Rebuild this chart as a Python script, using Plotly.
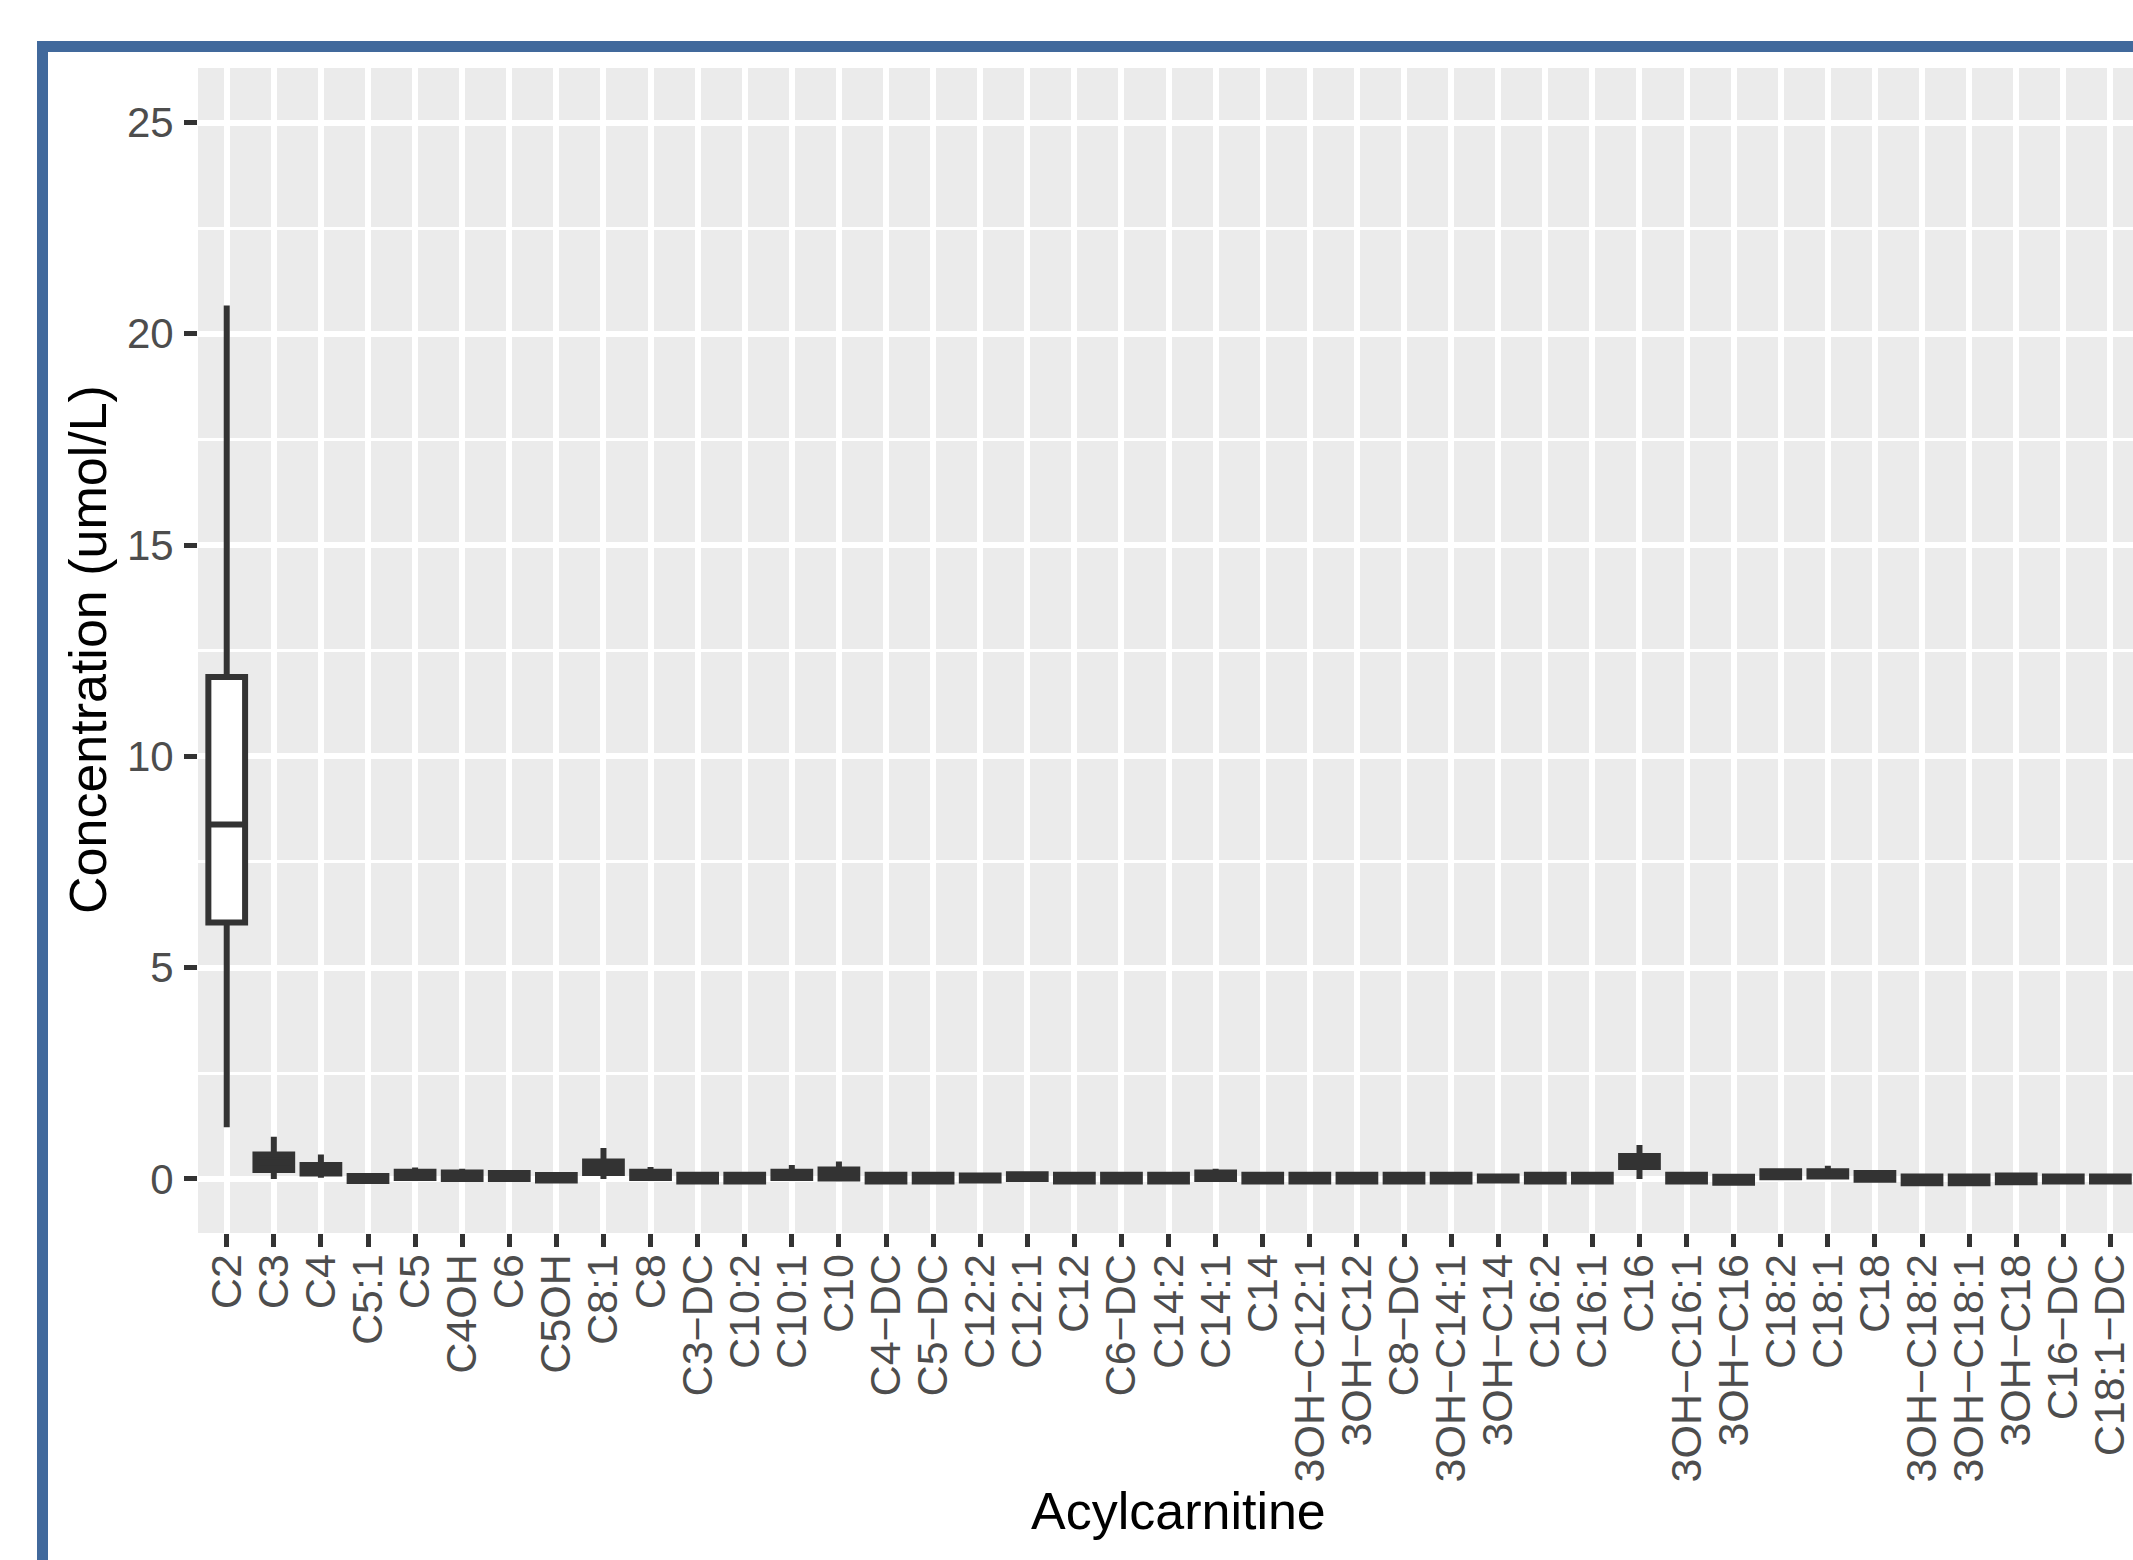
import plotly.graph_objects as go

# ---------------- data ----------------
categories = ["C2", "C3", "C4", "C5:1", "C5", "C4OH", "C6", "C5OH", "C8:1", "C8",
              "C3−DC", "C10:2", "C10:1", "C10", "C4−DC", "C5−DC", "C12:2", "C12:1", "C12", "C6−DC",
              "C14:2", "C14:1", "C14", "3OH−C12:1", "3OH−C12", "C8−DC", "3OH−C14:1", "3OH−C14", "C16:2", "C16:1",
              "C16", "3OH−C16:1", "3OH−C16", "C18:2", "C18:1", "C18", "3OH−C18:2", "3OH−C18:1", "3OH−C18", "C16−DC",
              "C18:1−DC"]

lower_whisker = [1.22, 0.00, 0.03, -0.05, 0.00, 0.00, 0.00, -0.04, 0.00, 0.00,
                 -0.06, -0.06, 0.00, 0.00, -0.06, -0.06, -0.04, 0.00, -0.06, -0.06,
                 -0.06, 0.00, -0.06, -0.06, -0.06, -0.06, -0.06, -0.04, -0.06, -0.06,
                 0.00, -0.06, -0.09, 0.04, 0.06, -0.02, -0.10, -0.10, -0.08, -0.06,
                 -0.06]
q1_values = [6.07, 0.21, 0.13, -0.05, 0.02, 0.00, 0.00, -0.04, 0.14, 0.02,
             -0.06, -0.06, 0.02, 0.01, -0.06, -0.06, -0.04, 0.00, -0.06, -0.06,
             -0.06, 0.00, -0.06, -0.06, -0.06, -0.06, -0.06, -0.04, -0.06, -0.06,
             0.28, -0.06, -0.09, 0.04, 0.06, -0.02, -0.10, -0.10, -0.08, -0.06,
             -0.06]
median_values = [8.39, 0.38, 0.22, 0.01, 0.09, 0.07, 0.06, 0.02, 0.27, 0.09,
                 0.02, 0.02, 0.09, 0.11, 0.02, 0.02, 0.02, 0.05, 0.02, 0.02,
                 0.02, 0.07, 0.02, 0.02, 0.02, 0.02, 0.02, 0.01, 0.02, 0.02,
                 0.42, 0.02, -0.02, 0.10, 0.12, 0.06, -0.02, -0.02, 0.00, 0.00,
                 0.00]
q3_values = [11.88, 0.58, 0.33, 0.07, 0.17, 0.15, 0.14, 0.09, 0.41, 0.17,
             0.10, 0.10, 0.17, 0.22, 0.10, 0.10, 0.08, 0.11, 0.10, 0.10,
             0.10, 0.15, 0.10, 0.10, 0.10, 0.10, 0.10, 0.06, 0.10, 0.10,
             0.54, 0.10, 0.05, 0.18, 0.18, 0.14, 0.06, 0.06, 0.08, 0.06,
             0.06]
upper_whisker = [20.67, 1.00, 0.58, 0.08, 0.27, 0.24, 0.15, 0.10, 0.73, 0.28,
                 0.10, 0.10, 0.33, 0.41, 0.10, 0.10, 0.08, 0.11, 0.10, 0.10,
                 0.10, 0.24, 0.10, 0.10, 0.10, 0.10, 0.10, 0.06, 0.10, 0.10,
                 0.80, 0.10, 0.05, 0.18, 0.31, 0.14, 0.06, 0.06, 0.08, 0.06,
                 0.06]

y_ticks = [0, 5, 10, 15, 20, 25]
x_title = "Acylcarnitine"
y_title = "Concentration (umol/L)"

# ---------------- layout geometry ----------------
W, H = 2133, 1560
L, R, T, B = 198, 0, 68, 327
PW, PH = W - L - R, H - T - B


def px_x(px):
    return (px - L) / PW


def px_y(py):
    return 1 - (py - T) / PH


FONT = "Liberation Sans, Arial, Helvetica, sans-serif"
DARK = "#333333"

fig = go.Figure()

wide_idx = [0]
small_idx = [i for i in range(len(categories)) if i not in wide_idx]

for idx, fill in ((wide_idx, "white"), (small_idx, DARK)):
    fig.add_trace(go.Box(
        x=[categories[i] for i in idx],
        q1=[q1_values[i] for i in idx],
        median=[median_values[i] for i in idx],
        q3=[q3_values[i] for i in idx],
        lowerfence=[lower_whisker[i] for i in idx],
        upperfence=[upper_whisker[i] for i in idx],
        boxpoints=False,
        whiskerwidth=0,
        width=0.78,
        fillcolor=fill,
        line=dict(color=DARK, width=6),
        showlegend=False,
        hoverinfo="skip",
    ))

fig.update_layout(
    width=W, height=H, autosize=False,
    margin=dict(l=L, r=R, t=T, b=B, pad=0),
    paper_bgcolor="white",
    plot_bgcolor="#EBEBEB",
    showlegend=False,
    xaxis=dict(
        type="category",
        categoryorder="array", categoryarray=categories,
        tickmode="array", tickvals=categories, ticktext=categories,
        range=[-0.61, 40.48],
        showgrid=True, gridcolor="white", gridwidth=6,
        zeroline=False, showline=False,
        ticks="outside", ticklen=13, tickwidth=5, tickcolor=DARK,
        tickangle=-90,
        tickfont=dict(family=FONT, size=43, color="#4D4D4D"),
        ticklabelstandoff=-10,
    ),
    yaxis=dict(
        range=[-1.28, 26.29],
        tickvals=y_ticks,
        showgrid=True, gridcolor="white", gridwidth=6,
        minor=dict(dtick=2.5, tick0=0, showgrid=True, gridcolor="white", gridwidth=3, ticks=""),
        zeroline=False, showline=False,
        ticks="outside", ticklen=13, tickwidth=5, tickcolor=DARK,
        tickfont=dict(family=FONT, size=42, color="#4D4D4D"),
        ticklabelstandoff=2,
    ),
    annotations=[
        dict(text=x_title, xref="paper", yref="paper", x=px_x(1178), y=px_y(1511),
             xanchor="center", yanchor="middle", showarrow=False,
             font=dict(family=FONT, size=52, color="black")),
        dict(text=y_title, xref="paper", yref="paper", x=px_x(88), y=px_y(650),
             xanchor="center", yanchor="middle", showarrow=False, textangle=-90,
             font=dict(family=FONT, size=52, color="black")),
    ],
    shapes=[
        dict(type="rect", xref="paper", yref="paper", layer="above",
             x0=px_x(37), x1=px_x(48), y0=px_y(41), y1=px_y(H),
             fillcolor="#41699C", line=dict(width=0)),
        dict(type="rect", xref="paper", yref="paper", layer="above",
             x0=px_x(37), x1=px_x(W), y0=px_y(41), y1=px_y(52),
             fillcolor="#41699C", line=dict(width=0)),
    ],
)

post = (
    "document.documentElement.style.margin='0';"
    "document.documentElement.style.overflow='hidden';"
    "document.body.style.margin='0';"
    "document.body.style.overflow='hidden';"
)

fig.write_html(
    "out.html",
    config={"displayModeBar": False, "responsive": False},
    post_script=post,
)
